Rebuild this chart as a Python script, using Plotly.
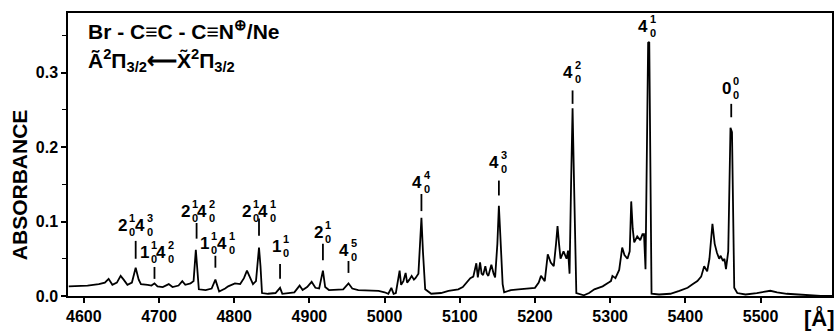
import plotly.graph_objects as go

# Absorption spectrum of BrC4N+ in neon matrix
WAVELENGTH = [
    4580, 4589, 4605, 4620, 4628, 4633, 4638, 4644, 4649, 4653, 4658, 4664, 4669, 4673, 4676,
    4685, 4690, 4694, 4698, 4705, 4713, 4718, 4726, 4731, 4735, 4742, 4746, 4749, 4751, 4753,
    4762, 4770, 4775, 4778, 4780, 4788, 4792, 4801, 4808, 4813, 4817, 4821, 4825, 4829, 4833,
    4835, 4837, 4845, 4855, 4861, 4864, 4872, 4880, 4887, 4891, 4897, 4903, 4908, 4913, 4918,
    4921, 4926, 4935, 4945, 4952, 4957, 4965, 4975, 4985, 4992, 5000, 5005, 5009, 5012, 5015,
    5018, 5020, 5022, 5025, 5028, 5030, 5033, 5036, 5039, 5041, 5045, 5047, 5049, 5051, 5054,
    5062, 5075, 5085, 5092, 5098, 5104, 5109, 5114, 5118, 5122, 5124, 5127, 5129, 5131, 5134,
    5136, 5138, 5142, 5145, 5147, 5150, 5152, 5154, 5157, 5159, 5168, 5178, 5187, 5194, 5200,
    5205, 5208, 5213, 5217, 5221, 5225, 5228, 5230, 5232, 5234, 5238, 5242, 5244, 5246, 5248,
    5250, 5252, 5255, 5265, 5272, 5279, 5290, 5298, 5301, 5303, 5307, 5312, 5316, 5319, 5323,
    5326, 5328, 5330, 5332, 5336, 5340, 5343, 5345, 5347, 5349, 5350.5, 5352, 5353.5, 5355,
    5365, 5380, 5392, 5403, 5410, 5416, 5421, 5425, 5429, 5432, 5436, 5439, 5442, 5445, 5447,
    5450, 5452, 5454, 5457, 5459, 5460, 5462, 5463, 5465, 5469, 5480, 5495, 5505, 5513, 5522,
    5535, 5550, 5565, 5580, 5595,
]
ABSORBANCE = [
    0.013, 0.013, 0.014, 0.016, 0.018, 0.023, 0.015, 0.018, 0.027, 0.022, 0.015, 0.018, 0.038, 0.022, 0.016,
    0.015, 0.014, 0.017, 0.013, 0.012, 0.016, 0.012, 0.014, 0.020, 0.015, 0.017, 0.020, 0.062, 0.040, 0.009,
    0.008, 0.010, 0.022, 0.010, 0.006, 0.010, 0.013, 0.017, 0.016, 0.024, 0.034, 0.025, 0.016, 0.020, 0.065,
    0.040, 0.004, 0.003, 0.004, 0.011, 0.003, 0.004, 0.005, 0.014, 0.008, 0.012, 0.019, 0.011, 0.010, 0.034,
    0.012, 0.008, 0.008, 0.009, 0.017, 0.010, 0.008, 0.008, 0.007, 0.007, 0.005, 0.003, 0.011, 0.003, 0.004,
    0.020, 0.034, 0.015, 0.020, 0.031, 0.018, 0.022, 0.027, 0.022, 0.024, 0.030, 0.060, 0.105, 0.060, 0.009,
    0.003, 0.004, 0.007, 0.008, 0.009, 0.012, 0.018, 0.024, 0.026, 0.044, 0.025, 0.045, 0.030, 0.028, 0.040,
    0.030, 0.027, 0.042, 0.030, 0.025, 0.070, 0.121, 0.080, 0.016, 0.005, 0.008, 0.009, 0.010, 0.010, 0.011,
    0.018, 0.027, 0.020, 0.056, 0.045, 0.040, 0.070, 0.094, 0.070, 0.050, 0.060, 0.050, 0.061, 0.030, 0.150,
    0.252, 0.150, 0.004, 0.001, 0.004, 0.009, 0.013, 0.018, 0.020, 0.027, 0.024, 0.035, 0.065, 0.055, 0.050,
    0.060, 0.127, 0.090, 0.072, 0.080, 0.075, 0.083, 0.083, 0.036, 0.200, 0.340, 0.341, 0.200, 0.003,
    0.002, 0.003, 0.007, 0.011, 0.016, 0.020, 0.026, 0.040, 0.033, 0.050, 0.097, 0.070, 0.058, 0.050, 0.054,
    0.047, 0.050, 0.036, 0.060, 0.160, 0.226, 0.220, 0.120, 0.011, 0.004, 0.002, 0.004, 0.006, 0.007, 0.005,
    0.003, 0.002, 0.001, 0.000, 0.000,
]

X_TICKS = [4600, 4700, 4800, 4900, 5000, 5100, 5200, 5300, 5400, 5500]
Y_TICKS = [0.0, 0.1, 0.2, 0.3]

# Band assignments: marker position, label centre, label height, marker top/bottom, terms
# each term is (base digit, upper index, lower index)
BAND_POS = [4669, 4694, 4750, 4775, 4833, 4861, 4918, 4952, 5049, 5152, 5250, 5351, 5461]
BAND_LABEL_X = [4669, 4698, 4752, 4778, 4833, 4862, 4918, 4952, 5049, 5152, 5250, 5350, 5461]
BAND_LABEL_Y = [0.094, 0.058, 0.114, 0.071, 0.114, 0.067, 0.085, 0.061, 0.152, 0.179, 0.300, 0.362, 0.279]
BAND_TICK_TOP = [0.074, 0.039, 0.098, 0.054, 0.104, 0.043, 0.070, 0.047, 0.137, 0.155, 0.276, None, 0.258]
BAND_TICK_BOT = [0.050, 0.023, 0.077, 0.038, 0.081, 0.023, 0.048, 0.031, 0.114, 0.135, 0.258, None, 0.240]
BAND_TERMS = [
    [("2", "1", "0"), ("4", "3", "0")],
    [("1", "1", "0"), ("4", "2", "0")],
    [("2", "1", "0"), ("4", "2", "0")],
    [("1", "1", "0"), ("4", "1", "0")],
    [("2", "1", "0"), ("4", "1", "0")],
    [("1", "1", "0")],
    [("2", "1", "0")],
    [("4", "5", "0")],
    [("4", "4", "0")],
    [("4", "3", "0")],
    [("4", "2", "0")],
    [("4", "1", "0")],
    [("0", "0", "0")],
]

FONT = "Liberation Sans, Arial, sans-serif"
BASE_SIZE = 17
SCRIPT_SIZE = 11
BASE_W = 10.0
SCRIPT_W = 7.5


def bold(size):
    return dict(family=FONT, size=size, color="black", weight="bold")


fig = go.Figure()
fig.add_trace(go.Scatter(
    x=WAVELENGTH, y=ABSORBANCE, mode="lines",
    line=dict(color="black", width=1.8), hoverinfo="skip", showlegend=False,
))

annotations = []
shapes = []
for pos, lx, ly, t0, t1, terms in zip(BAND_POS, BAND_LABEL_X, BAND_LABEL_Y,
                                       BAND_TICK_TOP, BAND_TICK_BOT, BAND_TERMS):
    total = len(terms) * (BASE_W + SCRIPT_W)
    edge = -total / 2
    for base, up, low in terms:
        edge += BASE_W
        common = dict(x=lx, y=ly, xref="x", yref="y", showarrow=False,
                      yanchor="middle", borderpad=0)
        annotations.append(dict(text=base, xshift=edge, yshift=0, xanchor="right",
                                font=bold(BASE_SIZE), **common))
        annotations.append(dict(text=f"{up}<br>{low}", xshift=edge, yshift=0.5, xanchor="left",
                                align="left", font=bold(SCRIPT_SIZE), **common))
        edge += SCRIPT_W
    if t0 is not None:
        shapes.append(dict(type="line", xref="x", yref="y", x0=pos, x1=pos, y0=t1, y1=t0,
                           line=dict(color="black", width=1.8)))

# Molecule and transition
annotations.append(dict(
    text="Br - C≡C - C≡N<sup>⊕</sup>/Ne", xref="paper", yref="paper", x=0.024, y=0.94,
    xanchor="left", yanchor="middle", showarrow=False, font=bold(21),
))
annotations.append(dict(
    text="Ã<sup>2</sup>Π<sub>3/2</sub>⟵X̃<sup>2</sup>Π<sub>3/2</sub>", xref="paper", yref="paper",
    x=0.024, y=0.832, xanchor="left", yanchor="middle", showarrow=False, font=bold(21),
))
# Axis titles
annotations.append(dict(
    text="ABSORBANCE", xref="paper", yref="paper", x=-0.0640, y=0.392, textangle=-90,
    xanchor="center", yanchor="middle", showarrow=False, font=bold(21),
))
annotations.append(dict(
    text="[Å]", xref="paper", yref="paper", x=0.983, y=-0.078,
    xanchor="center", yanchor="middle", showarrow=False, font=bold(22),
))

fig.update_layout(
    width=835, height=333,
    margin=dict(l=68, r=1, t=13, b=37),
    paper_bgcolor="white", plot_bgcolor="white",
    font=bold(16),
    annotations=annotations, shapes=shapes,
    xaxis=dict(
        range=[4579, 5595], tickvals=X_TICKS, ticktext=[str(v) for v in X_TICKS],
        ticks="outside", ticklen=5, tickwidth=1.5, tickcolor="black", tickfont=bold(16),
        showline=True, linecolor="black", linewidth=1.5, mirror=True,
        showgrid=False, zeroline=False,
    ),
    yaxis=dict(
        range=[0, 0.38], tickvals=Y_TICKS, ticktext=[f"{v:.1f}" for v in Y_TICKS],
        ticks="outside", ticklen=5, tickwidth=1.5, tickcolor="black", tickfont=bold(16),
        minor=dict(tickvals=[0.05, 0.15, 0.25, 0.35], ticks="outside", ticklen=4,
                   tickwidth=1.2, tickcolor="black"),
        showline=True, linecolor="black", linewidth=1.5, mirror=True,
        showgrid=False, zeroline=False,
    ),
)

fig.write_html("out.html")
